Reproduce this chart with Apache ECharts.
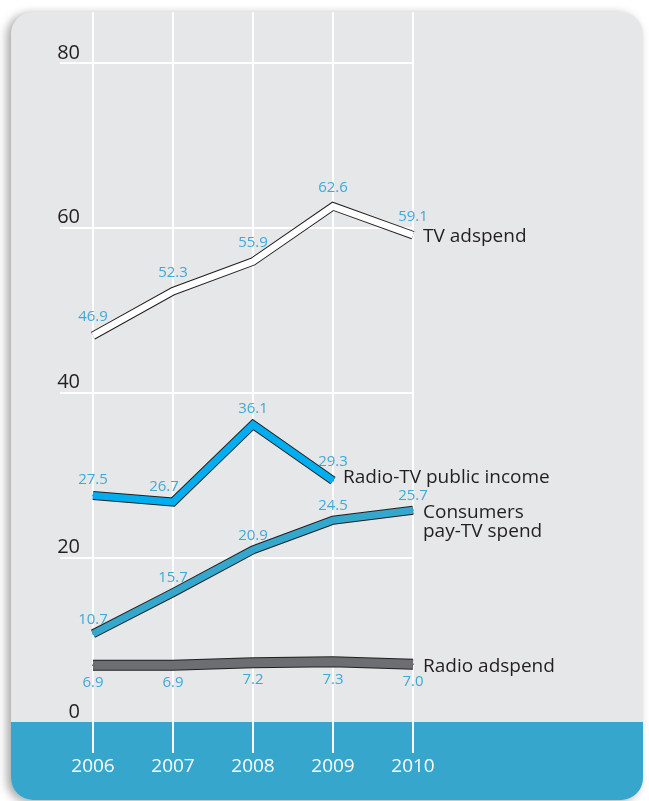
<!DOCTYPE html>
<html>
<head>
<meta charset="utf-8">
<script src="https://cdn.jsdelivr.net/npm/echarts@6/dist/echarts.min.js"></script>
<style>
html,body{margin:0;padding:0;background:#fff;}
#chart{width:649px;height:801px;}
</style>
</head>
<body>
<div id="chart"></div>
<script>
const years = ['2006', '2007', '2008', '2009', '2010'];
const tvAdspend = [46.9, 52.3, 55.9, 62.6, 59.1];
const radioTvPublicIncome = [27.5, 26.7, 36.1, 29.3];
const consumersPayTv = [10.7, 15.7, 20.9, 24.5, 25.7];
const radioAdspend = [6.9, 6.9, 7.2, 7.3, 7.0];
const yMin = 0, yMax = 80, yStep = 20;

const FONT = '"Open Sans", "Noto Sans", sans-serif';
const DARK = '#231F20';
const LABEL_BLUE = '#3FA9D5';

// label nudges (style only), by point index
const radioTvLabelNudge = { 1: [-9, 0], 3: [0, -3] };

function makeLine(name, data, fill, innerW, outerW, labelPos, labelDist, endText, endOffset, nudge) {
  nudge = nudge || {};
  const items = data.map((v, i) => nudge[i] ? { value: v, label: { offset: nudge[i] } } : v);
  return [
    {
      name: name + ' outline', type: 'line', xAxisIndex: 1, yAxisIndex: 1,
      data: data, symbol: 'none', silent: true, z: 2, animation: false,
      lineStyle: { color: DARK, width: outerW, join: 'miter', cap: 'butt' },
      emphasis: { disabled: true }
    },
    {
      name: name, type: 'line', xAxisIndex: 1, yAxisIndex: 1,
      data: items, symbol: 'circle', symbolSize: 2, showSymbol: true, silent: true, z: 3, animation: false,
      itemStyle: { color: fill, borderWidth: 0 },
      lineStyle: { color: fill, width: innerW, join: 'miter', cap: 'butt' },
      label: {
        show: true, position: labelPos, distance: labelDist,
        color: LABEL_BLUE, fontSize: 15, fontFamily: FONT,
        formatter: p => Number(p.value).toFixed(1)
      },
      endLabel: {
        show: true, formatter: endText, color: DARK, fontSize: 19, fontFamily: FONT,
        lineHeight: 19, distance: 10, offset: endOffset, align: 'left', verticalAlign: 'middle'
      },
      emphasis: { disabled: true }
    }
  ];
}

const series = [].concat(
  makeLine('TV adspend', tvAdspend, '#FFFFFF', 6.5, 8.5, 'top', 10, 'TV adspend', [0, 1]),
  makeLine('Radio-TV public income', radioTvPublicIncome, '#00AEEF', 7, 9, 'top', 7, 'Radio-TV public income', [0, -3], radioTvLabelNudge),
  makeLine('Consumers pay-TV spend', consumersPayTv, '#34A7CD', 7, 9, 'top', 6, 'Consumers\npay-TV spend', [0, 12]),
  makeLine('Radio adspend', radioAdspend, '#6D6E71', 9, 11, 'bottom', 9, 'Radio adspend', [0, 2])
);

const chart = echarts.init(document.getElementById('chart'), null, { renderer: 'canvas' });
chart.setOption({
  animation: false,
  graphic: [
    {
      type: 'rect', z: -100, silent: true,
      shape: { x: 11, y: 12, width: 632, height: 788, r: 22 },
      style: { fill: '#E6E7E9', shadowBlur: 10, shadowOffsetX: -4, shadowOffsetY: 2, shadowColor: 'rgba(0,0,0,0.35)' }
    },
    {
      type: 'rect', z: -99, silent: true,
      shape: { x: 11, y: 722, width: 632, height: 78, r: [0, 0, 22, 22] },
      style: { fill: '#36A6CC' }
    }
  ],
  grid: [
    { left: 60, right: 236, top: 63, bottom: 79 },
    { left: 93, right: 236, top: 63, bottom: 79 },
    { left: 93, right: 236, top: 12, bottom: 48 }
  ],
  xAxis: [
    { gridIndex: 0, type: 'value', show: false },
    { gridIndex: 1, type: 'category', data: years, boundaryGap: false, show: false },
    {
      gridIndex: 2, type: 'category', data: years, boundaryGap: false,
      axisLine: { show: false }, axisTick: { show: false },
      axisLabel: { color: '#FFFFFF', fontSize: 19, fontFamily: FONT, margin: 4 },
      splitLine: { show: true, lineStyle: { color: '#FFFFFF', width: 2 } }
    }
  ],
  yAxis: [
    {
      gridIndex: 0, type: 'value', min: yMin, max: yMax, interval: yStep,
      axisLine: { show: false }, axisTick: { show: false },
      axisLabel: {
        inside: true, margin: 20, align: 'right', verticalAlign: 'bottom',
        color: DARK, fontSize: 20, fontFamily: FONT
      },
      splitLine: { show: true, lineStyle: { color: ['transparent', '#FFFFFF', '#FFFFFF', '#FFFFFF', '#FFFFFF'], width: 2 } }
    },
    { gridIndex: 1, type: 'value', min: yMin, max: yMax, show: false },
    { gridIndex: 2, type: 'value', min: 0, max: 1, show: false }
  ],
  series: series
});
</script>
</body>
</html>
